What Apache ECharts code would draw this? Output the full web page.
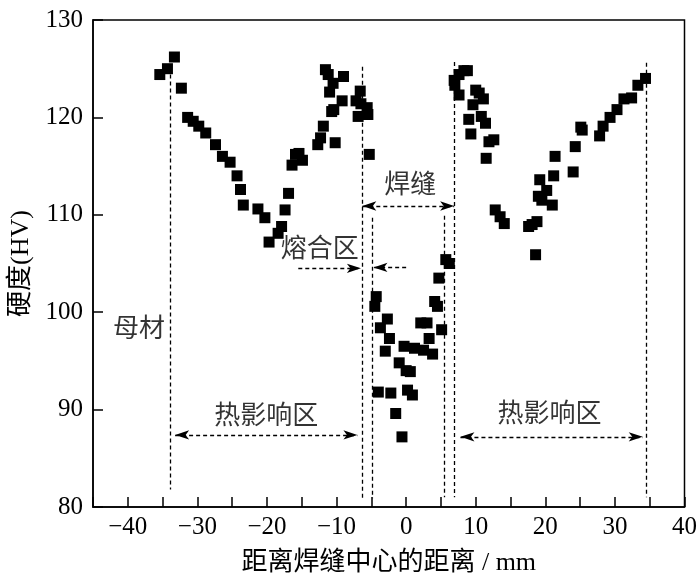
<!DOCTYPE html>
<html>
<head>
<meta charset="utf-8">
<script src="https://cdn.jsdelivr.net/npm/echarts@6/dist/echarts.min.js"></script>
<style>html,body{margin:0;padding:0;background:#fff;}#c{width:700px;height:584px;}</style>
</head>
<body>
<div id="c"></div>
<script>
// Distance from weld centre (mm) and hardness (HV)
const distance = [
  -35.4,-34.3,-33.3,-32.3,-31.4,-30.6,-29.8,-28.8,-27.4,-26.4,-25.3,-24.3,-23.8,-23.4,-21.3,-20.3,-19.7,-18.4,-17.9,-17.4,
  -16.9,-16.4,-15.9,-15.4,-14.9,-12.7,-12.3,-11.9,-11.6,-11.2,-11.0,-10.7,-10.5,-10.2,-10.4,-9.2,-9.0,-7.2,-6.9,-6.6,
  -6.5,-5.6,-5.5,-5.3,
  -4.5,-4.3,-4.0,-3.7,-3.0,-2.7,-2.4,-2.2,-1.5,-1.0,-0.6,-0.3,0.0,0.2,0.6,0.9,1.2,2.1,2.5,3.0,
  3.3,3.8,4.1,4.5,4.7,5.1,5.7,6.2,
  6.9,7.0,7.6,7.6,8.3,8.8,9.0,9.3,9.6,10.0,10.5,10.8,11.1,11.4,11.5,11.9,12.6,12.8,13.5,14.1,
  17.6,18.1,18.6,18.8,19.0,19.2,19.5,20.2,21.0,21.2,21.4,24.0,24.3,25.1,25.3,27.8,28.3,29.3,30.3,31.3,
  32.4,33.3,34.4
];
const hardness = [
  124.4,125.0,126.2,123.0,120.0,119.6,119.1,118.4,117.2,116.0,115.4,114.0,112.6,111.0,110.6,109.7,107.2,108.1,108.8,110.5,
  112.2,115.1,116.2,116.3,115.6,117.2,117.9,119.1,124.9,124.4,122.6,120.6,123.5,117.4,120.8,121.7,124.2,121.7,120.1,122.7,
  121.4,121.0,120.3,116.2,
  100.6,101.6,91.8,98.4,96.0,99.3,97.3,91.7,89.6,94.8,87.2,96.5,94.0,92.0,93.9,91.5,96.3,98.9,96.1,98.9,
  97.3,95.7,101.1,100.6,103.5,98.2,105.4,105.0,
  123.8,123.3,124.4,122.3,124.8,124.8,119.8,118.3,121.3,122.8,122.5,120.1,121.9,119.4,115.8,117.5,117.7,110.5,109.8,109.1,
  108.8,109.0,105.9,109.3,111.9,113.6,111.5,112.5,111.0,114.0,116.0,114.4,117.0,119.0,118.7,118.1,119.1,120.0,120.8,121.9,
  122.0,123.3,124.0
];

// Zone boundary lines (vertical dashed)
const boundaryX = [-33.9, -6.3, -4.9, 5.5, 6.9, 34.5];
const boundaryTop = [124.4, 125.2, 109.7, 109.9, 125.7, 125.6];
const boundaryBottom = [81.8, 80.9, 80.9, 81.0, 81.0, 81.0];

// Zone arrows: start x, end x, y, heads at start / end
const arrowFromX = [-6.3, -15.5, 0.0, -33.2, 7.8];
const arrowToX = [6.9, -6.5, -4.7, -7.0, 34.0];
const arrowY = [110.9, 104.5, 104.6, 87.4, 87.2];
const arrowStartHead = [true, false, false, true, true];
const arrowEndHead = [true, true, true, true, true];

// Zone labels
const zoneLabels = ['母材', '焊缝', '熔合区', '热影响区', '热影响区'];
const zoneLabelX = [-38.4, 0.6, -12.4, -20.1, 20.6];
const zoneLabelY = [98.2, 112.9, 106.4, 89.2, 89.4];

const xTicks = { min: -45, max: 40, interval: 5 };
const yTicks = { min: 80, max: 130, interval: 10 };

const serif = "'Liberation Serif','Times New Roman','Noto Sans CJK SC',serif";

const points = distance.map((d, i) => [d, hardness[i]]);

const lineData = [];
boundaryX.forEach((x, i) => {
  lineData.push([
    { coord: [x, boundaryTop[i]], symbol: 'none' },
    { coord: [x, boundaryBottom[i]], symbol: 'none' }
  ]);
});
arrowFromX.forEach((x, i) => {
  lineData.push([
    { coord: [x, arrowY[i]], symbol: arrowStartHead[i] ? 'arrow' : 'none' },
    { coord: [arrowToX[i], arrowY[i]], symbol: arrowEndHead[i] ? 'arrow' : 'none' }
  ]);
});

const chart = echarts.init(document.getElementById('c'));
chart.setOption({
  animation: false,
  backgroundColor: '#fff',
  grid: { left: 93, right: 12, top: 20, bottom: 77, show: true, borderColor: '#000', borderWidth: 1.5, backgroundColor: 'transparent' },
  xAxis: {
    type: 'value', min: xTicks.min, max: xTicks.max, interval: xTicks.interval,
    name: '距离焊缝中心的距离 / mm', nameLocation: 'middle', nameGap: 43,
    nameTextStyle: { fontFamily: serif, fontSize: 26, color: '#000' },
    axisLine: { onZero: false, lineStyle: { color: '#000', width: 1.5 } },
    axisTick: { inside: true, length: 10, lineStyle: { color: '#000', width: 1.5 },
      interval: 0 },
    axisLabel: { fontFamily: serif, fontSize: 25, color: '#000', margin: 8,
      formatter: v => (v % 10 === 0 && v > -45 ? String(v).replace('-', '\u2212') : '') },
    splitLine: { show: false }
  },
  yAxis: {
    type: 'value', min: yTicks.min, max: yTicks.max, interval: yTicks.interval,
    name: '硬度(HV)', nameLocation: 'middle', nameGap: 59, nameRotate: 90,
    nameTextStyle: { fontFamily: serif, fontSize: 26, color: '#000' },
    axisLine: { onZero: false, lineStyle: { color: '#000', width: 1.5 } },
    axisTick: { inside: true, length: 10, lineStyle: { color: '#000', width: 1.5 } },
    axisLabel: { fontFamily: serif, fontSize: 25, color: '#000', margin: 10 },
    splitLine: { show: false }
  },
  series: [
    {
      type: 'scatter', symbol: 'rect', symbolSize: 11,
      itemStyle: { color: '#000', opacity: 1 },
      data: points,
      markLine: {
        silent: true, animation: false,
        symbolSize: [7, 14],
        label: { show: false },
        lineStyle: { color: '#000', type: [4, 3], width: 1.3, opacity: 1 },
        emphasis: { disabled: true },
        data: lineData
      },
      z: 3
    },
    {
      type: 'scatter', symbolSize: 0, silent: true,
      data: zoneLabels.map((t, i) => ({ value: [zoneLabelX[i], zoneLabelY[i]], name: t })),
      label: { show: true, position: 'inside', formatter: p => p.name,
        fontFamily: serif, fontSize: 26, color: '#000' }
    }
  ]
});
</script>
</body>
</html>
